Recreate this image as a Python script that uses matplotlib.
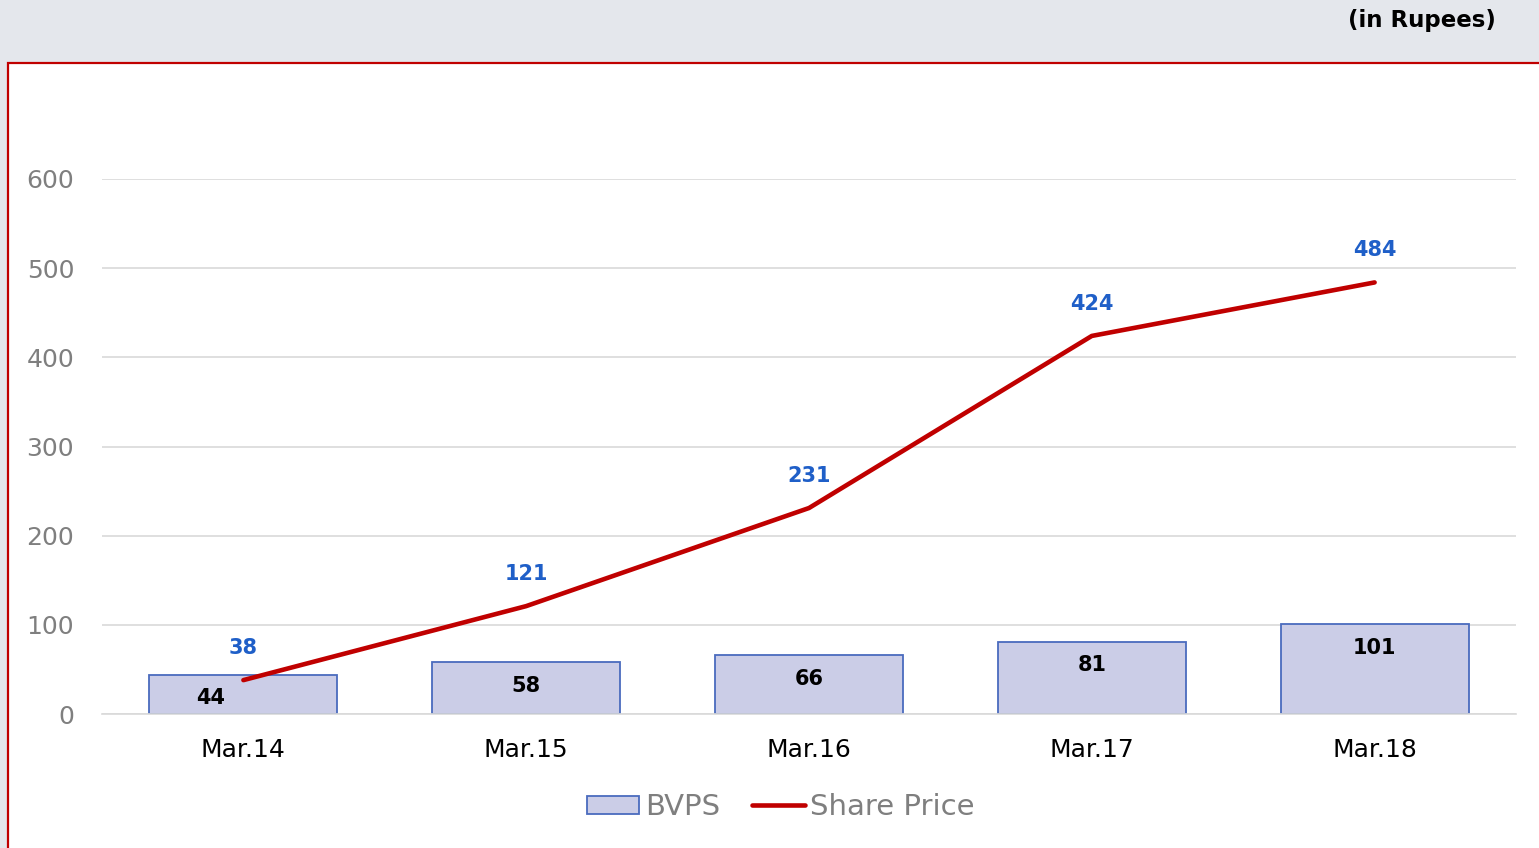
import matplotlib
matplotlib.use("Agg")
import matplotlib.pyplot as plt
from matplotlib.patches import Rectangle

years = ["Mar.14", "Mar.15", "Mar.16", "Mar.17", "Mar.18"]
bvps = [44, 58, 66, 81, 101]
share_price = [38, 121, 231, 424, 484]
yticks = [0, 100, 200, 300, 400, 500, 600]

plt.rcParams["font.family"] = ["DejaVu Sans"]

fig = plt.figure(figsize=(15.39, 8.48), dpi=100)
fig.patch.set_facecolor("#E4E7EC")
# white panel with red frame
fig.patches.append(Rectangle((8 / 1539, -0.01), 1.0, (848 - 63) / 848 + 0.01,
                             transform=fig.transFigure, facecolor="white",
                             edgecolor="#C00000", linewidth=1.6, zorder=-5))
fig.text(1496 / 1539, 1 - 21 / 848, "(in Rupees)", ha="right", va="center",
         fontsize=16.5, fontweight="bold", color="black")

ax = fig.add_axes([102 / 1539, (848 - 714) / 848, 1414 / 1539, 535 / 848])
ax.set_zorder(2)
ax.set_facecolor("none")
x = list(range(len(years)))
bars = ax.bar(x, bvps, width=0.665, color="#CBCDE7", edgecolor="#4A6BBE",
              linewidth=1.3, zorder=2, label="BVPS")
line, = ax.plot(x, share_price, color="#C00000", linewidth=3.3,
                solid_capstyle="round", zorder=3, label="Share Price")

for i, v in enumerate(bvps):
    dx = -0.115 if i == 0 else 0.0
    ax.annotate(str(v), (i + dx, v), xytext=(0, -17), textcoords="offset points",
                ha="center", va="center", fontsize=15, fontweight="bold",
                color="black", zorder=4)
for i, v in enumerate(share_price):
    ax.annotate(str(v), (i, v), xytext=(0, 23), textcoords="offset points",
                ha="center", va="center", fontsize=15, fontweight="bold",
                color="#1F5FC8", zorder=4)

ax.set_xlim(-0.5, len(years) - 0.5)
ax.set_ylim(0, 600)
ax.set_yticks(yticks)
ax.set_xticks(x)
ax.set_xticklabels(years)
ax.yaxis.grid(True, color="#D9D9D9", linewidth=1.2, zorder=0)
ax.set_axisbelow(True)
for s in ["top", "right", "left"]:
    ax.spines[s].set_visible(False)
ax.spines["bottom"].set_color("#D9D9D9")
ax.spines["bottom"].set_linewidth(1.2)
ax.tick_params(axis="y", length=0, labelsize=18, labelcolor="#7F7F7F", pad=20)
ax.tick_params(axis="x", length=0, labelsize=18, labelcolor="black", pad=17)

leg = ax.legend([bars, line], ["BVPS", "Share Price"], loc="center",
                bbox_to_anchor=(0.48, -0.174), ncol=2, frameon=False,
                fontsize=21, handlelength=1.8, handleheight=0.6,
                columnspacing=1.1, handletextpad=0.2)
for t in leg.get_texts():
    t.set_color("#7F7F7F")

fig.savefig("out.png", dpi=100, facecolor=fig.get_facecolor())
